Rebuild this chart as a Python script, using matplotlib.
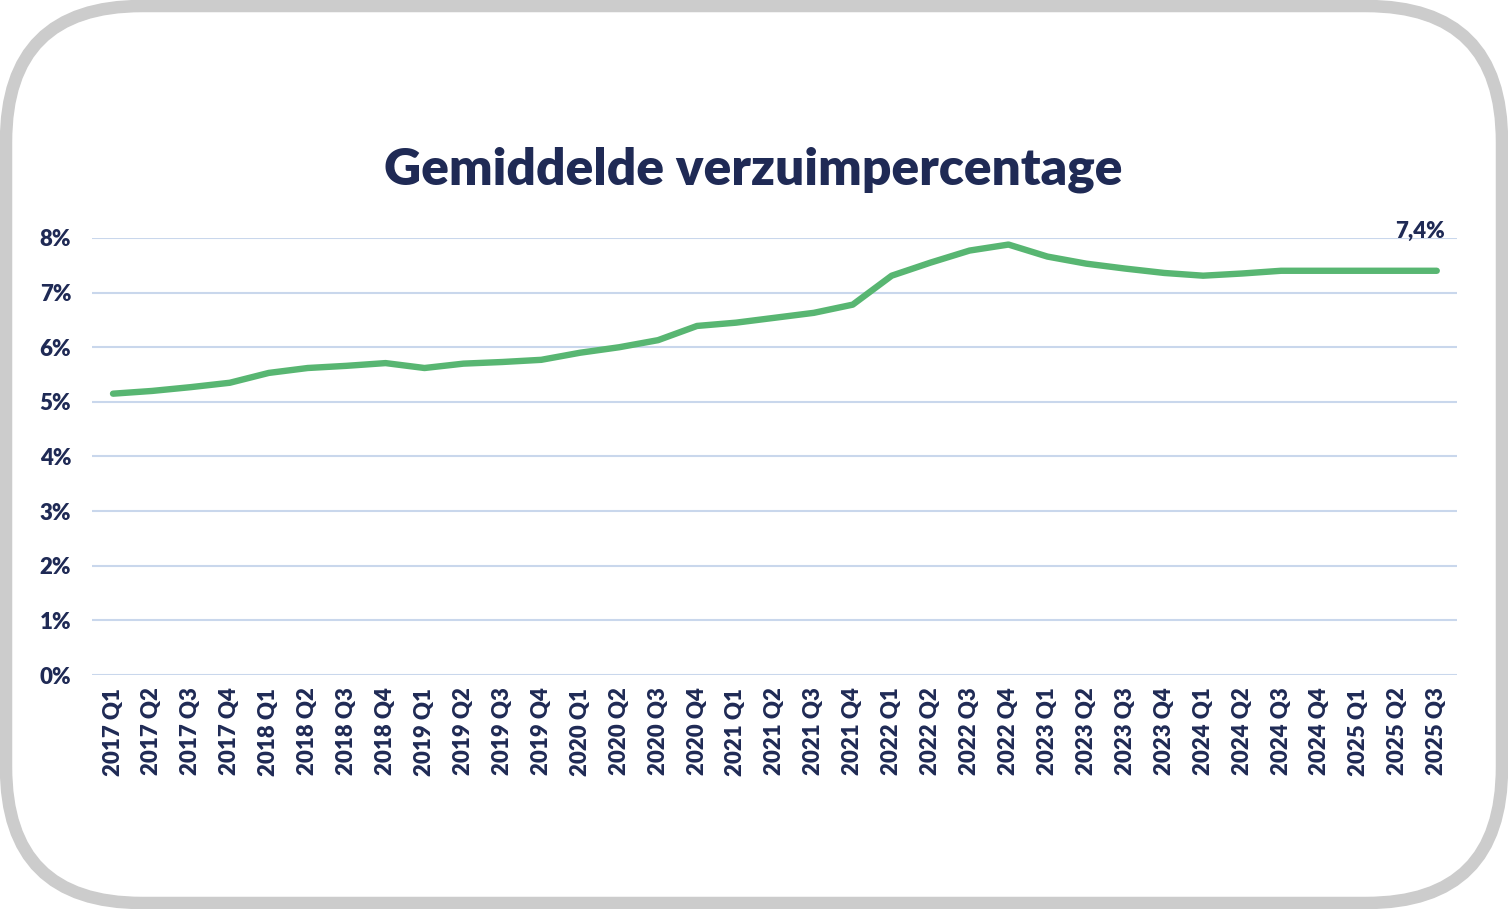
""" Gemiddelde verzuimpercentage per kwartaal, 2017 Q1 - 2025 Q3.
"""

import matplotlib.pyplot as plt
from matplotlib.patches import FancyBboxPatch


NAVY = '#1f2a55'
GREEN = '#58b672'
GRID = '#c9d7ec'

years = [2017] * 4 + [2018] * 4 + [2019] * 4 + [2020] * 4 + [2021] * 4 \
      + [2022] * 4 + [2023] * 4 + [2024] * 4 + [2025] * 3
quarters = ['Q1', 'Q2', 'Q3', 'Q4'] * 8 + ['Q1', 'Q2', 'Q3']
labels = [f'{y} {q}' for y, q in zip(years, quarters)]

# percentages
verzuim = [
    5.15, 5.20, 5.27, 5.35,
    5.53, 5.62, 5.66, 5.71,
    5.62, 5.70, 5.73, 5.77,
    5.90, 6.00, 6.13, 6.39,
    6.45, 6.54, 6.63, 6.78,
    7.31, 7.55, 7.77, 7.88,
    7.66, 7.53, 7.44, 7.36,
    7.31, 7.35, 7.40, 7.40,
    7.40, 7.40, 7.40,
]
last_label = '7,4%'
y_ticks = [0, 1, 2, 3, 4, 5, 6, 7, 8]


def main():
    plt.rcParams['font.family'] = ['Lato', 'DejaVu Sans']

    fig = plt.figure(figsize=(15.08, 9.09), dpi=100)

    # rounded grey frame round the whole chart, behind the axes
    frame = FancyBboxPatch(
        (6 / 1508, 6 / 909), 1 - 12 / 1508, 1 - 12 / 909,
        boxstyle='round,pad=0,rounding_size=0.09',
        transform=fig.transFigure,
        facecolor='white', edgecolor='#cccccc', linewidth=9,
        mutation_aspect=1508 / 909, zorder=-1,
    )
    fig.patches.append(frame)

    ax = fig.add_axes([92 / 1508, 1 - 675 / 909, (1457 - 92) / 1508, (675 - 238) / 909])
    ax.set_facecolor('none')

    x = list(range(len(verzuim)))
    ax.plot(x, verzuim, color=GREEN, linewidth=4.6, solid_capstyle='round',
            solid_joinstyle='round', zorder=3)

    ax.set_xlim(-0.54, len(verzuim) - 1 + 0.52)
    ax.set_ylim(0, 8)
    ax.set_yticks(y_ticks)
    ax.set_yticklabels([f'{t}%' for t in y_ticks])
    ax.set_xticks(x)
    ax.set_xticklabels(labels, rotation=90)
    ax.tick_params(axis='both', length=0, colors=NAVY, labelsize=16)
    ax.tick_params(axis='y', pad=15)
    ax.tick_params(axis='x', pad=9)
    for lab in ax.get_xticklabels() + ax.get_yticklabels():
        lab.set_fontweight('heavy')

    ax.grid(axis='y', color=GRID, linewidth=1.5)
    ax.set_axisbelow(True)
    for spine in ax.spines.values():
        spine.set_visible(False)

    ax.annotate(
        last_label, (x[-1], verzuim[-1]),
        xytext=(-12, 28), textcoords='offset points',
        ha='center', va='center', color=NAVY, fontsize=16, fontweight='heavy',
    )

    fig.text(753 / 1508, 1 - 170 / 909, 'Gemiddelde verzuimpercentage',
             ha='center', va='center', color=NAVY, fontsize=37, fontweight='heavy')

    fig.savefig('out.png', dpi=100)


if __name__ == '__main__':
    main()
